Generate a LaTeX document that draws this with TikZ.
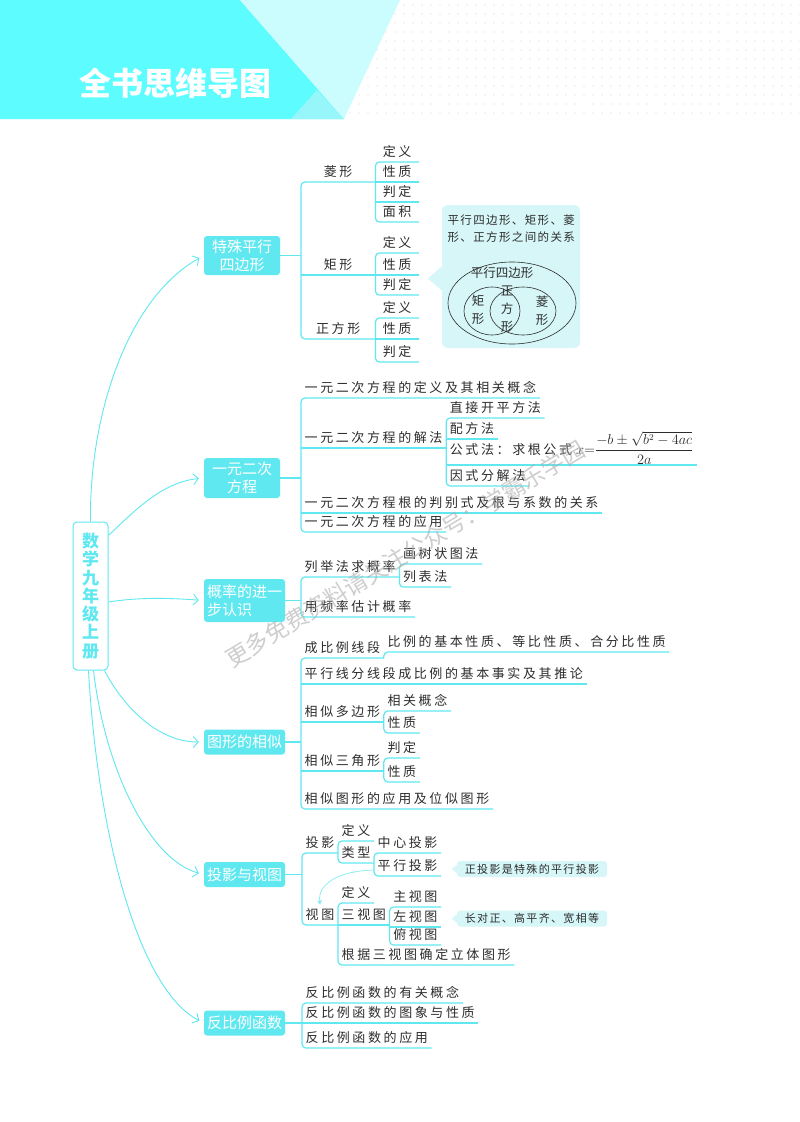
\documentclass[tikz,border=0pt]{standalone}
\usepackage{amsmath}
\usepackage{fontspec}
\newfontfamily\cjk{Noto Sans CJK SC}
\newfontfamily\cjkleaf[LetterSpace=20]{Noto Sans CJK SC}
\newfontfamily\cjknote[LetterSpace=12]{Noto Sans CJK SC}
\usetikzlibrary{arrows.meta,calc,positioning}

\definecolor{mapcyan}{RGB}{96,232,240}
\definecolor{headcyan}{RGB}{92,252,255}
\definecolor{headlight}{RGB}{204,253,254}
\definecolor{headmid}{RGB}{150,246,250}
\definecolor{notecyan}{RGB}{214,246,248}
\definecolor{textgray}{RGB}{45,45,45}
\definecolor{dotgray}{RGB}{212,212,212}

\tikzset{
  link/.style={draw=mapcyan,line width=1.2pt,rounded corners=4pt},
  branch/.style={draw=mapcyan,line width=0.9pt,-{Straight Barb[length=5pt,width=11pt]},shorten >=5pt},
  hint/.style={draw=mapcyan!80,line width=0.7pt,-{Triangle[length=4pt,width=4.5pt]}},
  topic/.style={fill=mapcyan,text=white,rounded corners=3pt,minimum width=81pt,minimum height=25pt,
    inner sep=2pt,align=center,font=\cjk\fontsize{15}{18}\selectfont},
  leaf/.style={anchor=south west,inner xsep=3.5pt,inner ysep=5pt,text height=10pt,text depth=0pt,
    text=textgray,font=\cjkleaf\fontsize{13}{15}\selectfont},
  note/.style={fill=notecyan,rounded corners=3pt,minimum width=150pt,minimum height=16pt,inner ysep=2pt,
    text=textgray,font=\cjknote\fontsize{11}{13}\selectfont},
  vtext/.style={inner sep=0pt,align=center,text=textgray,font=\cjk\fontsize{12.5}{18}\selectfont},
  venline/.style={draw=textgray,line width=0.6pt},
}
% bracket from first to last leaf, and a plain underline
\newcommand{\joinleaves}[2]{\draw[link] (#1.south east) -- (#1.south west) -- (#2.south west) -- (#2.south east);}
\newcommand{\leafline}[1]{\draw[link] (#1.south west) -- (#1.south east);}

\begin{document}
\begin{tikzpicture}[x=1pt,y=-1pt]
\useasboundingbox (0,0) rectangle (800,1122);
\fill[white] (0,0) rectangle (800,1122);

% header
\fill[headcyan] (0,0) -- (240,0) -- (344,119) -- (0,119) -- cycle;
\fill[headlight] (240,0) -- (400,0) -- (344,119) -- cycle;
\fill[headmid] (291,119) -- (317,90) -- (344,119) -- cycle;
\begin{scope}
\clip (400,0) -- (800,0) -- (800,119) -- (344,119) -- cycle;
\foreach \i in {0,...,50} \foreach \j in {0,...,12} \fill[dotgray] (350+9*\i,5+9*\j) circle (0.7);
\end{scope}
\node[text=white,font=\cjk\bfseries\fontsize{32}{32}\selectfont] (title) at (175,83) {全书思维导图};

% root and topics
\node[draw=mapcyan,line width=1pt,fill=white,rounded corners=4pt,minimum width=35pt,minimum height=148pt,
  inner sep=0pt,text=mapcyan,align=center,font=\cjk\bfseries\fontsize{17}{18.3}\selectfont]
  (root) at (90.5,596) {数\\学\\九\\年\\级\\上\\册};
\node[topic,minimum width=76pt,minimum height=39pt] (t1) at (242,255.5) {特殊平行\\四边形};
\node[topic,minimum width=76pt,minimum height=40pt] (t2) at (242,478) {一元二次\\方程};
\node[topic,minimum height=43pt,align=left] (t3) at (244.5,600.5) {概率的进一\\步认识};
\node[topic] (t4) at (244.5,742) {图形的相似};
\node[topic] (t5) at (244.5,874.5) {投影与视图};
\node[topic] (t6) at (244.5,1023) {反比例函数};

\draw[branch] (root.north) .. controls (89,420) and (125,300) .. (t1.west);
\draw[branch] ($(root.north east)+(0,14)$) .. controls (140,505) and (165,482) .. (t2.west);
\draw[branch] ($(root.east)+(0,6)$) .. controls (140,597) and (170,598) .. (t3.west);
\draw[branch] ($(root.south east)+(-4,0)$) .. controls (125,710) and (160,742) .. (t4.west);
\draw[branch] ($(root.south)+(3,0)$) .. controls (105,770) and (150,860) .. (t5.west);
\draw[branch] ($(root.south)+(-2,0)$) .. controls (98,840) and (140,990) .. (t6.west);

% 特殊平行四边形
\node[leaf,minimum width=74pt] (rhomb) at (301,182) {菱形};
\node[leaf,minimum width=74pt] (rect) at (301,275) {矩形};
\node[leaf,minimum width=74pt] (square) at (301,339) {正方形};
\draw[link] (t1.east) -- (t1.east -| rhomb.south west);
\joinleaves{rhomb}{square}
\leafline{rect}
\foreach \nm/\lab/\yy in {rhombA/定义/162,rhombB/性质/182,rhombC/判定/202,rhombD/面积/222}
  {\node[leaf,minimum width=43pt] (\nm) at (rhomb.south east |- 0,\yy) {\lab};}
\foreach \nm/\lab/\yy in {rectA/定义/253,rectB/性质/275,rectC/判定/295}
  {\node[leaf,minimum width=43pt] (\nm) at (rect.south east |- 0,\yy) {\lab};}
\foreach \nm/\lab/\yy in {squareA/定义/318,squareB/性质/339,squareC/判定/362}
  {\node[leaf,minimum width=43pt] (\nm) at (square.south east |- 0,\yy) {\lab};}
\joinleaves{rhombA}{rhombD}
\leafline{rhombB}
\leafline{rhombC}
\joinleaves{rectA}{rectC}
\leafline{rectB}
\joinleaves{squareA}{squareC}
\leafline{squareB}

% relation of the quadrilaterals
\node[fill=notecyan,rounded corners=6pt,minimum width=138pt,minimum height=143pt] (venn) at (511,276.5) {};
\fill[notecyan] ($(venn.west)+(0,-10)$) -- ($(venn.west)+(-14,2)$) -- ($(venn.west)+(0,14)$) -- cycle;
\node[anchor=north west,align=left,text=textgray,font=\cjknote\fontsize{11.5}{17}\selectfont]
  (venntitle) at (444,211) {平行四边形、矩形、菱\\形、正方形之间的关系};
\draw[venline] (512,303) ellipse (64 and 41);
\draw[venline] (492,311) ellipse (28 and 24);
\draw[venline] (523,311) ellipse (33 and 24);
\node[vtext] (vpar) at (502,273) {平行四边形};
\node[vtext] (vrect) at (478,310) {矩\\形};
\node[vtext] (vsq) at (507,309) {正\\方\\形};
\node[vtext] (vrh) at (542,311) {菱\\形};

% 一元二次方程
\node[leaf] (eqdef) at (301,398) {一元二次方程的定义及其相关概念};
\node[leaf] (eqsol) at (301,448) {一元二次方程的解法};
\node[leaf] (eqdisc) at (301,513) {一元二次方程根的判别式及根与系数的关系};
\node[leaf] (equse) at (301,532) {一元二次方程的应用};
\draw[link] (t2.east) -- (t2.east -| eqdef.south west);
\joinleaves{eqdef}{equse}
\leafline{eqsol}
\leafline{eqdisc}
\node[leaf] (sqrtm) at (eqsol.south east |- 0,418) {直接开平方法};
\node[leaf] (compm) at (eqsol.south east |- 0,439) {配方法};
\node[leaf,text depth=10pt,inner ysep=0.5pt] (formm) at (eqsol.south east |- 0,465)
  {公式法：求根公式\hspace{4pt}{\fontsize{13.5}{15}\selectfont$x{=}\dfrac{-b\pm\sqrt{b^2-4ac}}{2a}$}};
\node[leaf] (factm) at (eqsol.south east |- 0,486) {因式分解法};
\joinleaves{sqrtm}{factm}
\leafline{compm}
\leafline{formm}

% 概率的进一步认识
\node[leaf] (enum) at (301,577) {列举法求概率};
\node[leaf] (freq) at (301,617) {用频率估计概率};
\draw[link] (t3.east) -- (t3.east -| enum.south west);
\joinleaves{enum}{freq}
\node[leaf] (tree) at (enum.south east |- 0,564) {画树状图法};
\node[leaf] (table) at (enum.south east |- 0,587) {列表法};
\joinleaves{tree}{table}

% 图形的相似
\node[leaf] (propseg) at (301,658) {成比例线段};
\node[leaf] (parline) at (301,684) {平行线分线段成比例的基本事实及其推论};
\node[leaf] (simpoly) at (301,722) {相似多边形};
\node[leaf] (simtri) at (301,771) {相似三角形};
\node[leaf] (simapp) at (301,809) {相似图形的应用及位似图形};
\draw[link] (t4.east) -- (t4.east -| propseg.south west);
\joinleaves{propseg}{simapp}
\foreach \c in {parline,simpoly,simtri} {\leafline{\c}}
\node[leaf] (propbasic) at (propseg.south east |- 0,652) {比例的基本性质、等比性质、合分比性质};
\draw[link] (propseg.south east) |- (propbasic.south east);
\node[leaf] (polyA) at (simpoly.south east |- 0,711) {相关概念};
\node[leaf] (polyB) at (simpoly.south east |- 0,733) {性质};
\joinleaves{polyA}{polyB}
\node[leaf] (triA) at (simtri.south east |- 0,758) {判定};
\node[leaf] (triB) at (simtri.south east |- 0,782) {性质};
\joinleaves{triA}{triB}

% 投影与视图
\node[leaf] (proj) at (302,853) {投影};
\node[leaf] (view) at (302,925) {视图};
\draw[link] (t5.east) -- (t5.east -| proj.south west);
\joinleaves{proj}{view}
\node[leaf] (projdef) at (proj.south east |- 0,841) {定义};
\node[leaf] (projtype) at (proj.south east |- 0,863) {类型};
\joinleaves{projdef}{projtype}
\node[leaf] (central) at (projtype.south east |- 0,853) {中心投影};
\node[leaf] (parallel) at (projtype.south east |- 0,876) {平行投影};
\joinleaves{central}{parallel}
\node[leaf] (viewdef) at (view.south east |- 0,903) {定义};
\node[leaf] (threeview) at (view.south east |- 0,925) {三视图};
\node[leaf] (viewsolid) at (view.south east |- 0,965) {根据三视图确定立体图形};
\joinleaves{viewdef}{viewsolid}
\leafline{threeview}
\node[leaf] (front) at (threeview.south east |- 0,907) {主视图};
\node[leaf] (side) at (threeview.south east |- 0,927) {左视图};
\node[leaf] (top) at (threeview.south east |- 0,945) {俯视图};
\joinleaves{front}{top}
\leafline{side}
\draw[hint] ([yshift=6pt]parallel.south west) .. controls (338,871) and (318,884) .. (view.north);
\node[note] (orthnote) at (532,869) {正投影是特殊的平行投影};
\fill[notecyan] ($(orthnote.west)+(0,-4)$) -- ($(orthnote.west)+(-5,0)$) -- ($(orthnote.west)+(0,4)$) -- cycle;
\node[note] (threenote) at (532,918.5) {长对正、高平齐、宽相等};
\fill[notecyan] ($(threenote.west)+(0,-4)$) -- ($(threenote.west)+(-5,0)$) -- ($(threenote.west)+(0,4)$) -- cycle;

% 反比例函数
\node[leaf] (invdef) at (302,1003) {反比例函数的有关概念};
\node[leaf] (invgraph) at (302,1023) {反比例函数的图象与性质};
\node[leaf] (invuse) at (302,1048) {反比例函数的应用};
\draw[link] (t6.east) -- (t6.east -| invdef.south west);
\joinleaves{invdef}{invuse}
\leafline{invgraph}

% watermark
\node[rotate=31,text=black!32,text opacity=0.6,font=\cjk\fontsize{23}{23}\selectfont] (wm) at (405,554)
  {更多免费资料请关注公众号：学霸乐学园};
\end{tikzpicture}
\end{document}
